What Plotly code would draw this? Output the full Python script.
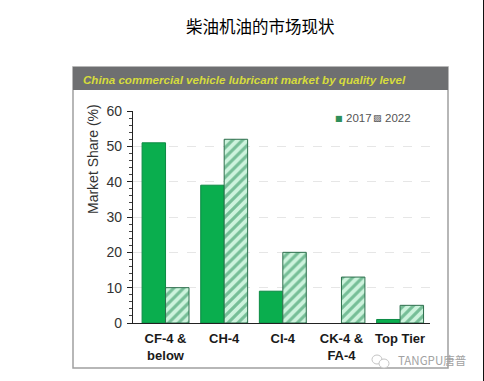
import plotly.graph_objects as go

categories = ["CF-4 &<br>below", "CH-4", "CI-4", "CK-4 &<br>FA-4", "Top Tier"]
share_2017 = [51, 39, 9, None, 1]
share_2022 = [10, 52, 20, 13, 5]
y_ticks = [0, 10, 20, 30, 40, 50, 60]

W, H = 484, 381
L, R, T, B = 133, 430, 111, 323
SANS = "Liberation Sans, Arial, sans-serif"
CJK = "Noto Sans CJK SC, sans-serif"


def fx(x):
    return (x - L) / (R - L)


def fy(y):
    return (B - y) / (B - T)


fig = go.Figure()
fig.add_bar(name="2017", x=categories, y=share_2017, showlegend=False,
            marker=dict(color="#0aae4e", line=dict(color="#0c8a44", width=1)))
fig.add_bar(name="2022", x=categories, y=share_2022, showlegend=False,
            marker=dict(color="#cdf3dd", line=dict(color="#2d6e4c", width=1),
                        pattern=dict(shape="/", fgcolor="#1f8a52", bgcolor="#cdf3dd",
                                     size=7, solidity=0.45)))

shapes = [
    dict(type="rect", xref="paper", yref="paper", layer="below",
         x0=fx(73), x1=fx(448), y0=fy(368), y1=fy(67),
         fillcolor="white", line=dict(color="#a0a0a0", width=1.5)),
    dict(type="rect", xref="paper", yref="paper", layer="below",
         x0=fx(73), x1=fx(448), y0=fy(90), y1=fy(67),
         fillcolor="#6e6f71", line=dict(width=0)),
    dict(type="line", xref="paper", yref="paper", x0=fx(483.5), x1=fx(483.5),
         y0=fy(381), y1=fy(0), line=dict(color="#111111", width=1)),
    dict(type="circle", xref="paper", yref="paper", x0=fx(372), x1=fx(382),
         y0=fy(364), y1=fy(355), line=dict(color="#c4c4c4", width=1)),
    dict(type="circle", xref="paper", yref="paper", x0=fx(379), x1=fx(389),
         y0=fy(368), y1=fy(359), fillcolor="white", line=dict(color="#c4c4c4", width=1)),
]


def note(text, x, y, size, color, family=SANS, xanchor="center", **kw):
    return dict(text=text, xref="paper", yref="paper", x=fx(x), y=fy(y), showarrow=False,
                xanchor=xanchor, yanchor="middle", font=dict(family=family, size=size, color=color),
                **kw)


annotations = [
    note("柴油机油的市场现状", 260, 26, 16.5, "#000000", CJK),
    note("<b><i>China commercial vehicle lubricant market by quality level</i></b>",
         81, 79, 11.6, "#d6dc3c", xanchor="left"),
    note("Market Share (%)", 93, 159, 14, "#333333", textangle=-90),
    note("■", 339, 118, 8, "#2f8f5a", "DejaVu Sans"),
    note("2017", 344, 118, 11.5, "#555555", xanchor="left"),
    note("▨", 377, 118, 9, "#444444", "DejaVu Sans"),
    note("2022", 382.5, 118, 11.5, "#555555", xanchor="left"),
    note("TANGPU唐普", 396, 360, 11.5, "#a2a2a2", CJK, xanchor="left"),
]

fig.update_layout(
    width=W, height=H, autosize=False,
    margin=dict(l=L, r=W - R, t=T, b=H - B),
    paper_bgcolor="white", plot_bgcolor="rgba(0,0,0,0)",
    barmode="group", bargap=0.2, bargroupgap=0,
    shapes=shapes, annotations=annotations,
    font=dict(family=SANS, color="#333333"),
    showlegend=False,
    xaxis=dict(range=[-0.555, 4.51], showline=True, linecolor="#222222", linewidth=1.2,
               ticks="", ticklabelstandoff=3, tickangle=0,
               tickfont=dict(size=13, color="#1a1a1a", family=SANS),
               tickprefix="<b>", ticksuffix="</b>"),
    yaxis=dict(range=[0, 60], tickvals=y_ticks, showline=True, linecolor="#222222",
               linewidth=1.2, ticks="outside", ticklen=5, tickcolor="#222222",
               minor=dict(dtick=2, ticks="outside", ticklen=3, tickcolor="#444444"),
               showgrid=True, gridcolor="#e6e6e6", griddash="dash", gridwidth=1,
               zeroline=False, ticklabelstandoff=2,
               tickfont=dict(size=14, color="#333333")),
)

fig.write_html("out.html", config={"displayModeBar": False},
               post_script="document.body.style.margin='0';")
